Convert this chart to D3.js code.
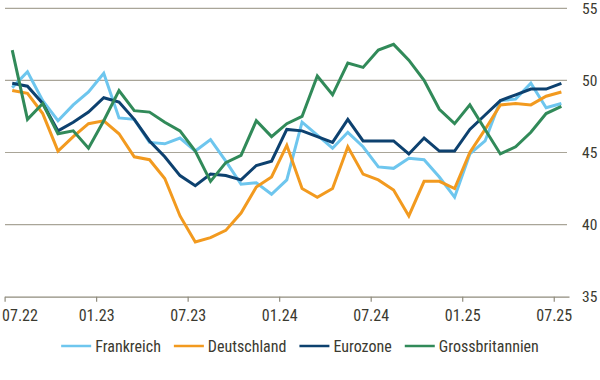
<!DOCTYPE html>
<html>
<head>
<meta charset="utf-8">
<script src="https://cdn.jsdelivr.net/npm/d3@7"></script>
<style>
html,body{margin:0;padding:0;background:#fff;}
svg{display:block;}
text{font-family:"Liberation Sans Narrow","Roboto Condensed",Lato,sans-serif;fill:#3b3a30;}
</style>
</head>
<body>
<svg id="chart" width="600" height="380"></svg>
<script>
const tickLabels = ["07.22","01.23","07.23","01.24","07.24","01.25","07.25"];
const yTicks = [35,40,45,50,55];
const seriesNames = ["Frankreich","Deutschland","Eurozone","Grossbritannien"];
const colors = ["#6ec6ee","#f29a1f","#0d416f","#318a59"];

const frankreich = [49.5,50.6,48.6,47.2,48.3,49.2,50.5,47.4,47.3,45.7,45.6,46.0,45.1,45.9,44.4,42.8,42.9,42.1,43.1,47.1,46.2,45.3,46.4,45.4,44.0,43.9,44.6,44.5,43.3,41.9,44.9,45.8,48.6,48.7,49.8,48.1,48.4];
const deutschland = [49.3,49.1,47.7,45.1,46.1,47.0,47.2,46.3,44.7,44.5,43.2,40.6,38.8,39.1,39.6,40.8,42.6,43.3,45.5,42.5,41.9,42.5,45.4,43.5,43.1,42.4,40.6,43.0,43.0,42.5,45.0,46.6,48.3,48.4,48.3,48.9,49.2];
const eurozone = [49.8,49.6,48.4,46.5,47.1,47.8,48.8,48.5,47.3,45.8,44.7,43.4,42.7,43.5,43.4,43.1,44.1,44.4,46.6,46.5,46.1,45.7,47.3,45.8,45.8,45.8,44.9,46.0,45.1,45.1,46.6,47.6,48.6,49.0,49.4,49.4,49.8];
const grossbritannien = [52.1,47.3,48.4,46.3,46.5,45.3,47.2,49.3,47.9,47.8,47.1,46.5,45.1,43.0,44.3,44.8,47.2,46.1,47.0,47.5,50.3,49.0,51.2,50.9,52.1,52.5,51.4,50.0,48.0,47.0,48.3,46.6,44.9,45.4,46.4,47.7,48.2];

const allSeries = [frankreich, deutschland, eurozone, grossbritannien];

const svg = d3.select("#chart");
const x = d3.scaleLinear().domain([0, 37]).range([4.6, 569]);
const y = d3.scaleLinear().domain([35, 55]).range([296.7, 8.3]);

// gridlines
svg.append("g").selectAll("line")
  .data(yTicks.filter(v => v > 35))
  .join("line")
  .attr("x1", 5).attr("x2", 567)
  .attr("y1", d => y(d)).attr("y2", d => y(d))
  .attr("stroke", "#a9a598").attr("stroke-width", 1.2);

// y labels (right)
svg.append("g").selectAll("text")
  .data(yTicks)
  .join("text")
  .attr("x", 582).attr("y", d => y(d) + 0.5)
  .attr("dominant-baseline", "central")
  .attr("font-size", 15.5)
  .text(d => d);

// x axis
const xAxis = d3.axisBottom(x)
  .tickValues(d3.range(0, 37, 6))
  .tickFormat((d, i) => tickLabels[i])
  .tickSize(5)
  .tickSizeOuter(0)
  .tickPadding(8);
const gx = svg.append("g").attr("transform", `translate(0,${y(35)})`).call(xAxis);
gx.select(".domain").attr("stroke", "#8f8b7d").attr("stroke-width", 1.2);
gx.selectAll(".tick line").attr("stroke", "#8f8b7d").attr("stroke-width", 1.2);
gx.selectAll(".tick text")
  .attr("font-size", 16)
  .attr("fill", "#3b3a30")
  .style("font-family", "'Liberation Sans Narrow','Roboto Condensed',Lato,sans-serif");
gx.selectAll(".tick text").filter((d, i) => i === 0)
  .attr("text-anchor", "start").attr("x", -3);

// lines
const line = d3.line()
  .x((d, i) => x(i + 0.5))
  .y(d => y(d))
  .curve(d3.curveLinear);

svg.append("g").selectAll("path")
  .data(allSeries)
  .join("path")
  .attr("d", d => line(d))
  .attr("fill", "none")
  .attr("stroke", (d, i) => colors[i])
  .attr("stroke-width", 3)
  .attr("stroke-linejoin", "miter");

// legend
const lg = svg.append("g");
const items = lg.selectAll("g").data(seriesNames).join("g");
items.append("line")
  .attr("x1", 0).attr("x2", 30).attr("y1", 0).attr("y2", 0)
  .attr("stroke", (d, i) => colors[i]).attr("stroke-width", 2.5);
items.append("text")
  .attr("x", 34).attr("y", 0)
  .attr("dominant-baseline", "central")
  .attr("font-size", 16)
  .text(d => d);
const widths = [];
items.each(function(d) {
  const w = 34 + d3.select(this).select("text").node().getComputedTextLength();
  widths.push(w);
});
const total = d3.sum(widths) + 13 * (widths.length - 1);
let start = 300 - total / 2;
items.attr("transform", (d, i) => {
  const t = `translate(${start},346)`;
  start += widths[i] + 13;
  return t;
});
</script>
</body>
</html>
